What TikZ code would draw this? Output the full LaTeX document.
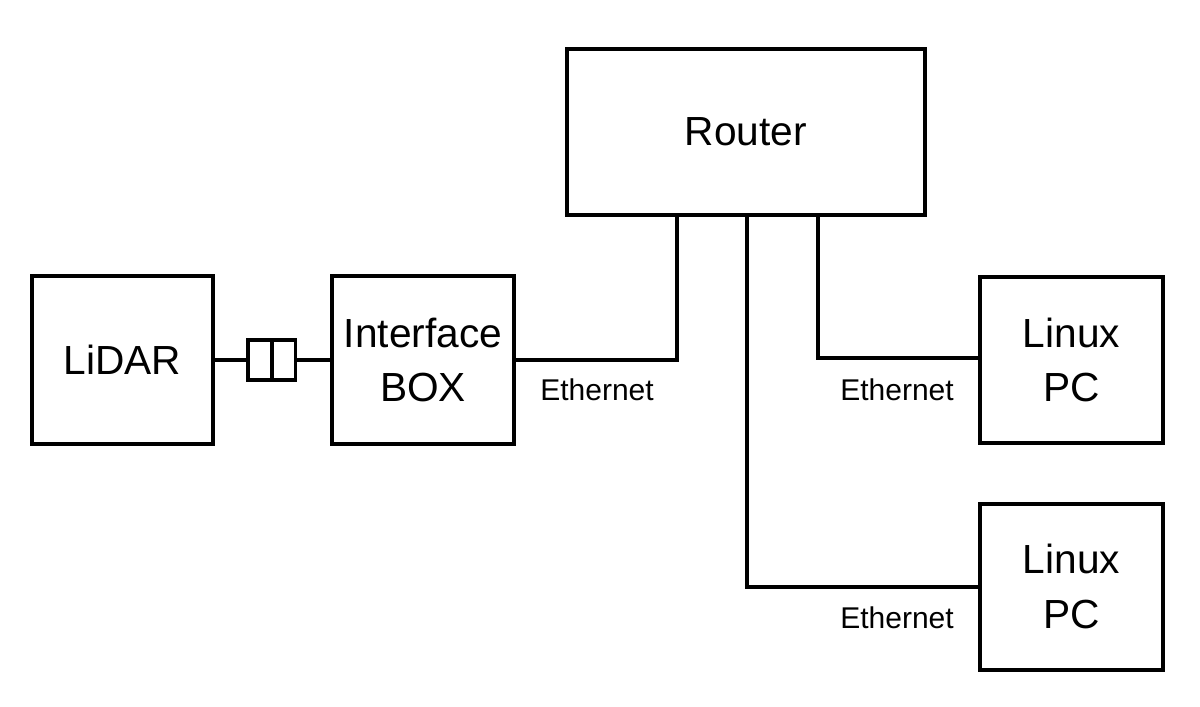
\documentclass[tikz,border=0pt]{standalone}
\usepackage{fontspec}
\setmainfont{Liberation Sans}
\begin{document}
\begin{tikzpicture}[x=0.75pt,y=-0.75pt,
  box/.style={draw,line width=3pt,rectangle,inner sep=0pt,align=center,
    font=\fontsize{30.5}{41}\selectfont},
  cbox/.style={draw,line width=2.6pt,rectangle,inner sep=0pt,minimum width=18pt,minimum height=30pt},
  wire/.style={line width=3pt},
  lbl/.style={font=\fontsize{22.5}{26}\selectfont,inner sep=0pt}]
\useasboundingbox (0,0) rectangle (1200,707);
\node[box,minimum width=268.5pt,minimum height=124pt] (router) at (746,132) {Router};
\node[box,minimum width=135.75pt,minimum height=126pt] (lidar) at (122.5,360) {LiDAR};
\node[box,minimum width=136.5pt,minimum height=126pt] (iface) at (423,360) {Interface\\BOX};
\node[box,minimum width=137.25pt,minimum height=124.5pt] (pc1) at (1071.5,360) {Linux\\PC};
\node[box,minimum width=137.25pt,minimum height=124.5pt] (pc2) at (1071.5,586.5) {Linux\\PC};
\node[cbox] (c1) at (260,360) {};
\node[cbox] (c2) at (283.5,360) {};
\coordinate (r1) at (677,214);
\coordinate (r2) at (747,214);
\coordinate (r3) at (817.5,214);
\draw[wire] (lidar.east) -- (c1.west);
\draw[wire] (c2.east) -- (iface.west);
\draw[wire] (iface.east) -| (r1);
\draw[wire] (pc1.west |- 0,358) -| (r3);
\draw[wire] (pc2.west) -| (r2);
\node[lbl] (e1) at (597,390) {Ethernet};
\node[lbl] (e2) at (897,390) {Ethernet};
\node[lbl] (e3) at (897,618) {Ethernet};
\end{tikzpicture}
\end{document}
